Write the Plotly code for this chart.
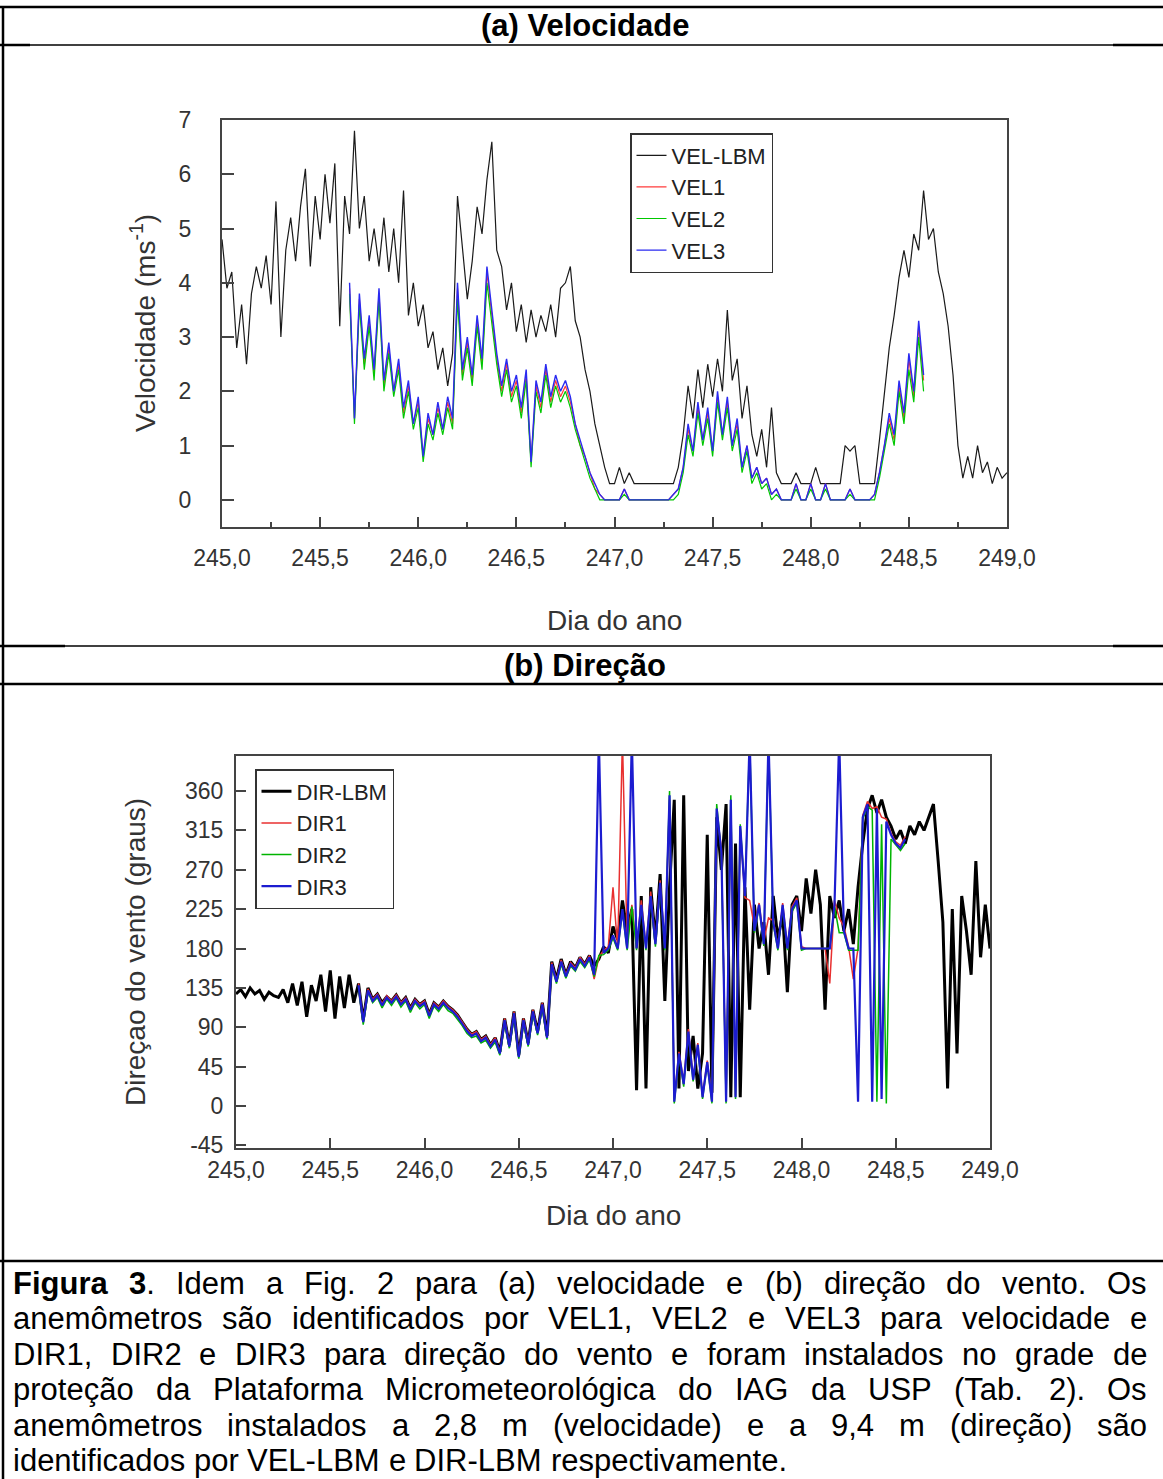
import plotly.graph_objects as go

FONT = "Liberation Sans, Arial, Helvetica, sans-serif"
W, H = 1163, 1479

# ---------------- data ----------------
DAY_START = 245.0
DAY_STEP = 0.025
COLORED_START_INDEX = 26   # 245.65: first sample of the grid anemometers

X_TICKS = [245.0, 245.5, 246.0, 246.5, 247.0, 247.5, 248.0, 248.5, 249.0]
DIR_TICKS = [-45, 0, 45, 90, 135, 180, 225, 270, 315, 360]
DIR_TICK_LABELS = ["-45", "0", "45", "90", "135", "180", "225", "270", "315", "360"]

VEL_LBM = [4.8, 3.9, 4.2, 2.8, 3.6, 2.5, 3.8, 4.3, 3.9, 4.5,
           3.6, 5.5, 3.0, 4.6, 5.2, 4.4, 5.4, 6.1, 4.3, 5.6,
           4.8, 6.0, 5.1, 6.2, 3.2, 5.6, 4.9, 6.8, 5.0, 5.6,
           4.4, 5.0, 4.3, 5.2, 4.2, 5.0, 4.0, 5.7, 3.4, 4.0,
           3.2, 3.6, 2.8, 3.1, 2.4, 2.8, 2.1, 2.7, 5.6, 4.6,
           3.7, 4.4, 5.4, 4.9, 5.9, 6.6, 4.6, 4.3, 3.5, 4.0,
           3.1, 3.6, 2.9, 3.5, 3.0, 3.4, 3.1, 3.6, 3.0, 3.9,
           4.0, 4.3, 3.3, 3.0, 2.4, 2.0, 1.4, 1.0, 0.6, 0.3,
           0.3, 0.6, 0.3, 0.5, 0.3, 0.3, 0.3, 0.3, 0.3, 0.3,
           0.3, 0.3, 0.3, 0.6, 1.2, 2.1, 1.5, 2.4, 1.7, 2.5,
           1.9, 2.6, 2.0, 3.5, 2.2, 2.6, 1.5, 2.1, 1.2, 0.8,
           1.3, 0.6, 1.7, 0.5, 0.3, 0.3, 0.3, 0.5, 0.3, 0.3,
           0.3, 0.6, 0.3, 0.3, 0.3, 0.3, 0.3, 1.0, 0.9, 1.0,
           0.3, 0.3, 0.3, 0.3, 1.1, 1.9, 2.8, 3.4, 4.1, 4.6,
           4.1, 4.9, 4.6, 5.7, 4.8, 5.0, 4.2, 3.8, 3.2, 2.3,
           1.0, 0.4, 0.8, 0.4, 1.0, 0.5, 0.7, 0.3, 0.6, 0.4,
           0.5]

VEL1 = [3.9, 1.5, 3.7, 2.5, 3.3, 2.3, 3.8, 2.1, 2.8, 2.0,
        2.5, 1.6, 2.1, 1.4, 1.8, 0.8, 1.5, 1.2, 1.7, 1.3,
        1.8, 1.4, 3.9, 2.3, 2.9, 2.2, 3.3, 2.5, 4.2, 3.4,
        2.6, 2.0, 2.5, 1.9, 2.2, 1.6, 2.3, 0.7, 2.1, 1.7,
        2.4, 1.8, 2.2, 1.9, 2.1, 1.8, 1.4, 1.0, 0.8, 0.5,
        0.2, 0.1, 0.0, 0.0, 0.0, 0.0, 0.2, 0.0, 0.0, 0.0,
        0.0, 0.0, 0.0, 0.0, 0.0, 0.0, 0.1, 0.2, 0.6, 1.3,
        0.9, 1.7, 1.1, 1.6, 0.9, 1.9, 1.2, 1.8, 1.0, 1.4,
        0.6, 1.0, 0.4, 0.6, 0.3, 0.4, 0.1, 0.2, 0.0, 0.0,
        0.0, 0.3, 0.0, 0.0, 0.3, 0.0, 0.0, 0.3, 0.0, 0.0,
        0.0, 0.0, 0.2, 0.0, 0.0, 0.0, 0.0, 0.1, 0.5, 1.0,
        1.5, 1.1, 2.1, 1.5, 2.6, 1.9, 3.2, 2.2]

VEL2 = [3.8, 1.4, 3.6, 2.4, 3.2, 2.2, 3.7, 2.0, 2.7, 1.9,
        2.4, 1.5, 2.0, 1.3, 1.7, 0.7, 1.4, 1.1, 1.6, 1.2,
        1.7, 1.3, 3.7, 2.2, 2.8, 2.1, 3.2, 2.4, 4.0, 3.2,
        2.5, 1.9, 2.4, 1.8, 2.1, 1.5, 2.2, 0.6, 2.0, 1.6,
        2.3, 1.7, 2.1, 1.8, 2.0, 1.7, 1.3, 1.0, 0.7, 0.4,
        0.2, 0.0, 0.0, 0.0, 0.0, 0.0, 0.1, 0.0, 0.0, 0.0,
        0.0, 0.0, 0.0, 0.0, 0.0, 0.0, 0.0, 0.1, 0.5, 1.2,
        0.8, 1.6, 1.0, 1.5, 0.8, 1.8, 1.1, 1.7, 0.9, 1.3,
        0.5, 0.9, 0.3, 0.5, 0.2, 0.3, 0.0, 0.1, 0.0, 0.0,
        0.0, 0.2, 0.0, 0.0, 0.2, 0.0, 0.0, 0.2, 0.0, 0.0,
        0.0, 0.0, 0.1, 0.0, 0.0, 0.0, 0.0, 0.0, 0.4, 0.9,
        1.4, 1.0, 2.0, 1.4, 2.4, 1.8, 3.0, 2.0]

VEL3 = [4.0, 1.5, 3.8, 2.6, 3.4, 2.4, 3.9, 2.2, 2.9, 2.0,
        2.6, 1.7, 2.2, 1.4, 1.9, 0.8, 1.6, 1.2, 1.8, 1.3,
        1.9, 1.5, 4.0, 2.4, 3.0, 2.3, 3.4, 2.6, 4.3, 3.5,
        2.7, 2.1, 2.6, 2.0, 2.3, 1.7, 2.4, 0.7, 2.2, 1.8,
        2.5, 1.9, 2.3, 2.0, 2.2, 1.9, 1.4, 1.1, 0.8, 0.5,
        0.3, 0.1, 0.0, 0.0, 0.0, 0.0, 0.2, 0.0, 0.0, 0.0,
        0.0, 0.0, 0.0, 0.0, 0.0, 0.0, 0.1, 0.2, 0.6, 1.4,
        0.9, 1.8, 1.1, 1.7, 0.9, 2.0, 1.2, 1.9, 1.0, 1.5,
        0.6, 1.0, 0.4, 0.6, 0.3, 0.4, 0.1, 0.2, 0.0, 0.0,
        0.0, 0.3, 0.0, 0.0, 0.3, 0.0, 0.0, 0.3, 0.0, 0.0,
        0.0, 0.0, 0.2, 0.0, 0.0, 0.0, 0.0, 0.1, 0.5, 1.0,
        1.6, 1.2, 2.2, 1.6, 2.7, 2.0, 3.3, 2.3]

DIR_LBM = [128, 133, 125, 135, 128, 132, 122, 130, 126, 124,
           133, 118, 140, 115, 142, 102, 138, 120, 150, 108,
           155, 100, 148, 112, 150, 118, 140, 98, 135, 122,
           128, 118, 125, 120, 127, 118, 124, 112, 122, 116,
           120, 105, 118, 113, 120, 114, 110, 104, 96, 88,
           82, 85, 76, 80, 70, 78, 62, 100, 70, 108,
           58, 100, 72, 110, 85, 118, 80, 165, 145, 168,
           150, 165, 158, 170, 162, 172, 160, 168, 182, 175,
           205, 190, 235, 200, 225, 18, 240, 20, 250, 190,
           265, 120, 250, 350, 20, 355, 40, 80, 20, 60,
           310, 15, 330, 270, 345, 10, 300, 10, 250, 110,
           230, 180, 210, 150, 240, 190, 220, 130, 230, 240,
           200, 260, 220, 270, 230, 110, 240, 215, 235, 200,
           225, 185, 250, 300, 340, 355, 335, 350, 330, 320,
           305, 315, 300, 320, 310, 325, 315, 330, 345, 280,
           210, 20, 225, 60, 240, 200, 150, 280, 170, 230,
           180]

DIR1 = [140, 98, 134, 122, 128, 117, 126, 120, 127, 118,
        124, 112, 122, 116, 120, 105, 118, 113, 120, 114,
        110, 104, 96, 88, 82, 85, 76, 80, 70, 78,
        62, 100, 70, 108, 58, 100, 72, 110, 85, 118,
        80, 164, 144, 167, 150, 164, 158, 170, 162, 172,
        145, 170, 178, 182, 250, 180, 420, 185, 230, 180,
        235, 182, 245, 188, 258, 182, 350, 8, 62, 28,
        88, 32, 72, 12, 52, 8, 335, 295, 8, 345,
        12, 318, 238, 235, 205, 232, 188, 215, 212, 182,
        232, 182, 228, 238, 182, 180, 180, 180, 180, 180,
        140, 235, 215, 205, 182, 145, 180, 332, 348, 340,
        342, 330, 328, 312, 302, 298, 308]

DIR2 = [136, 93, 130, 118, 124, 112, 122, 115, 123, 113,
        120, 107, 118, 111, 116, 100, 114, 108, 116, 109,
        106, 99, 92, 83, 78, 80, 72, 75, 66, 73,
        58, 95, 66, 103, 54, 95, 68, 105, 81, 113,
        76, 160, 140, 162, 146, 160, 154, 165, 158, 167,
        148, 172, 173, 178, 192, 178, 222, 178, 228, 178,
        228, 178, 238, 182, 252, 178, 360, 3, 58, 22,
        82, 28, 68, 8, 48, 3, 345, 288, 3, 355,
        8, 322, 242, 420, 198, 228, 183, 420, 208, 178,
        228, 178, 222, 232, 178, 180, 180, 180, 180, 180,
        180, 228, 198, 198, 178, 178, 178, 328, 342, 338,
        5, 322, 3, 305, 298, 292, 300]

DIR3 = [138, 96, 132, 120, 126, 115, 124, 118, 125, 116,
        122, 110, 120, 114, 118, 103, 116, 111, 118, 112,
        108, 102, 94, 86, 80, 83, 74, 78, 68, 76,
        60, 98, 68, 106, 56, 98, 70, 108, 83, 116,
        78, 162, 142, 165, 148, 162, 156, 168, 160, 170,
        150, 420, 175, 180, 195, 180, 225, 180, 420, 180,
        230, 180, 240, 185, 255, 180, 355, 5, 60, 25,
        85, 30, 70, 10, 50, 5, 340, 290, 5, 350,
        10, 320, 240, 420, 200, 230, 185, 420, 210, 180,
        230, 180, 225, 235, 180, 180, 180, 180, 180, 180,
        180, 230, 420, 200, 180, 180, 5, 330, 345, 5,
        340, 8, 325, 310, 300, 295, 305]

CAPTION_LINES = [
    "Figura 3. Idem a Fig. 2 para (a) velocidade e (b) direção do vento. Os",
    "anemômetros são identificados por VEL1, VEL2 e VEL3 para velocidade e",
    "DIR1, DIR2 e DIR3 para direção do vento e foram instalados no grade de",
    "proteção da Plataforma Micrometeorológica do IAG da USP (Tab. 2). Os",
    "anemômetros instalados a 2,8 m (velocidade) e a 9,4 m (direção) são",
    "identificados por VEL-LBM e DIR-LBM respectivamente.",
]
CAPTION_BOLD_PREFIX = "Figura 3"

# ---------------- helpers ----------------
def px(x):
    return x / W


def py(y):
    return 1 - y / H


days = [round(DAY_START + DAY_STEP * i, 4) for i in range(len(VEL_LBM))]
vel_days = days[COLORED_START_INDEX:COLORED_START_INDEX + len(VEL3)]
dir_days = days[COLORED_START_INDEX:COLORED_START_INDEX + len(DIR3)]

fig = go.Figure()

# panel (a)
fig.add_trace(go.Scatter(x=days, y=VEL_LBM, mode="lines", name="VEL-LBM",
                         line=dict(color="#1a1a1a", width=1.2), xaxis="x", yaxis="y", legend="legend"))
fig.add_trace(go.Scatter(x=vel_days, y=VEL1, mode="lines", name="VEL1",
                         line=dict(color="#ff3b3b", width=1.2), xaxis="x", yaxis="y", legend="legend"))
fig.add_trace(go.Scatter(x=vel_days, y=VEL2, mode="lines", name="VEL2",
                         line=dict(color="#00c800", width=1.2), xaxis="x", yaxis="y", legend="legend"))
fig.add_trace(go.Scatter(x=vel_days, y=VEL3, mode="lines", name="VEL3",
                         line=dict(color="#2a2af0", width=1.4), xaxis="x", yaxis="y", legend="legend"))

# panel (b)
fig.add_trace(go.Scatter(x=days, y=DIR_LBM, mode="lines", name="DIR-LBM",
                         line=dict(color="#000000", width=3), xaxis="x2", yaxis="y2", legend="legend2"))
fig.add_trace(go.Scatter(x=dir_days, y=DIR1, mode="lines", name="DIR1",
                         line=dict(color="#e83030", width=1.5), xaxis="x2", yaxis="y2", legend="legend2"))
fig.add_trace(go.Scatter(x=dir_days, y=DIR2, mode="lines", name="DIR2",
                         line=dict(color="#00b400", width=1.5), xaxis="x2", yaxis="y2", legend="legend2"))
fig.add_trace(go.Scatter(x=dir_days, y=DIR3, mode="lines", name="DIR3",
                         line=dict(color="#1c1cd0", width=2.2), xaxis="x2", yaxis="y2", legend="legend2"))

AX = dict(showline=True, mirror=True, linecolor="#444", linewidth=2, showgrid=False,
          zeroline=False, ticks="inside", tickcolor="#444", tickwidth=1.5, automargin=False,
          tickfont=dict(family=FONT, size=23, color="#333"))

fig.update_layout(
    width=W, height=H, margin=dict(l=0, r=0, t=0, b=0, pad=0, autoexpand=False),
    paper_bgcolor="white", plot_bgcolor="white",
    separators=",.",
    font=dict(family=FONT, color="#333"),
    xaxis=dict(AX, domain=[px(222), px(1007)], range=[245, 249], anchor="y",
               tickmode="array", tickvals=X_TICKS, tickformat=".1f", ticklen=10,
               ticklabelstandoff=9,
               minor=dict(ticks="inside", ticklen=5, tickwidth=1.5, tickcolor="#444",
                          dtick=0.25, tick0=245, showgrid=False)),
    yaxis=dict(AX, domain=[py(527), py(120)], range=[-0.5, 7], anchor="x",
               tick0=0, dtick=1, ticklen=12, ticklabelstandoff=24),
    xaxis2=dict(AX, domain=[px(236), px(990)], range=[245, 249], anchor="y2",
                tickmode="array", tickvals=X_TICKS, tickformat=".1f", ticklen=10,
                ticklabelstandoff=0),
    yaxis2=dict(AX, domain=[py(1148), py(756)], range=[-48, 400], anchor="x2",
                tickmode="array", tickvals=DIR_TICKS, ticktext=DIR_TICK_LABELS,
                ticklen=10, ticklabelstandoff=6),
    legend=dict(x=px(630), y=py(133), xanchor="left", yanchor="top", bgcolor="white",
                bordercolor="#333", borderwidth=1.5,
                font=dict(family=FONT, size=22, color="#222")),
    legend2=dict(x=px(255), y=py(769), xanchor="left", yanchor="top", bgcolor="white",
                 bordercolor="#333", borderwidth=1.5,
                 font=dict(family=FONT, size=22, color="#222")),
)

annotations = []


def ann(x, y, text, size, color="#333", angle=0, xanchor="center"):
    annotations.append(dict(x=px(x), y=py(y), xref="paper", yref="paper", text=text,
                            showarrow=False, xanchor=xanchor, yanchor="middle",
                            textangle=angle, borderpad=0,
                            font=dict(family=FONT, size=size, color=color)))


# axis titles
ann(143, 323, "Velocidade (ms<sup>-1</sup>)", 28, angle=-90)
ann(614, 620, "Dia do ano", 28)
ann(135, 952, "Direçao do vento (graus)", 28, angle=-90)
ann(613, 1215, "Dia do ano", 28)

# panel titles
ann(585, 26, "<b>(a) Velocidade</b>", 31, color="black")
ann(585, 665, "<b>(b) Direção</b>", 31, color="black")

# caption, justified word by word (Arial/Liberation Sans metrics)
REG = {" ": 278, "(": 333, ")": 333, ",": 278, "-": 333, ".": 278,
       "A": 667, "B": 667, "C": 722, "D": 722, "E": 667, "F": 611, "G": 778, "I": 278,
       "L": 556, "M": 833, "O": 778, "P": 667, "R": 722, "S": 667, "T": 611, "U": 722,
       "V": 667, "a": 556, "b": 556, "c": 500, "d": 556, "e": 556, "f": 278, "g": 556,
       "h": 556, "i": 222, "l": 222, "m": 833, "n": 556, "o": 556, "p": 556, "r": 333,
       "s": 500, "t": 278, "u": 556, "v": 500, "ã": 556, "ç": 500, "ô": 556, "ó": 556}
BOLD = {" ": 278, "F": 611, "i": 278, "g": 611, "u": 611, "r": 389, "a": 556}
CAP_SIZE = 31
CAP_LEFT, CAP_RIGHT = 12, 1146
CAP_Y0, CAP_DY = 1283, 35.5


def cw(ch, bold):
    tbl = BOLD if bold else REG
    return tbl.get(ch, 556) * CAP_SIZE / 1000


for li, line in enumerate(CAPTION_LINES):
    words = line.split(" ")
    tokens = []
    pos = 0
    for w in words:
        html, width = "", 0.0
        run_bold = None
        for ch in w:
            b = li == 0 and pos < len(CAPTION_BOLD_PREFIX)
            width += cw(ch, b)
            if b != run_bold:
                if run_bold:
                    html += "</b>"
                if b:
                    html += "<b>"
                run_bold = b
            html += ch
            pos += 1
        if run_bold:
            html += "</b>"
        pos += 1
        tokens.append((html, width))
    total = sum(t[1] for t in tokens)
    last = li == len(CAPTION_LINES) - 1
    gap = cw(" ", False) if last else (CAP_RIGHT - CAP_LEFT - total) / (len(tokens) - 1)
    x = CAP_LEFT
    yc = CAP_Y0 + CAP_DY * li
    for html, width in tokens:
        ann(x, yc, html, CAP_SIZE, color="black", xanchor="left")
        x += width + gap

fig.update_layout(annotations=annotations)

# table rules
shapes = []


def hline(y, x0, x1, w):
    shapes.append(dict(type="line", xref="paper", yref="paper", x0=px(x0), x1=px(x1),
                       y0=py(y), y1=py(y), line=dict(color="black", width=w)))


hline(7, 0, W, 2.5)
hline(45, 0, W, 1.3)
hline(45, 0, 30, 2.5)
hline(45, 1113, W, 2.5)
hline(646, 0, W, 1.3)
hline(646, 0, 65, 2.5)
hline(646, 1113, W, 2.5)
hline(684, 0, W, 2.5)
hline(1261, 0, W, 2.5)
shapes.append(dict(type="line", xref="paper", yref="paper", x0=px(3), x1=px(3),
                   y0=py(6), y1=py(H), line=dict(color="black", width=2.5)))
fig.update_layout(shapes=shapes)

fig.write_html("out.html")
